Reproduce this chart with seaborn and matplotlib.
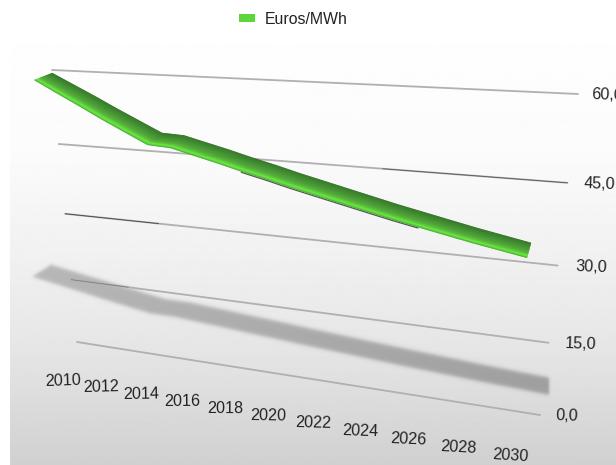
import numpy as np
import pandas as pd
import matplotlib
matplotlib.use("Agg")
import matplotlib.pyplot as plt
from matplotlib.colors import to_rgb
from matplotlib.patches import Patch
import seaborn as sns

# ---- data ----
years = [2010, 2011, 2012, 2013, 2014, 2015, 2016, 2017, 2018, 2019, 2020,
         2021, 2022, 2023, 2024, 2025, 2026, 2027, 2028, 2029, 2030]
prices = [59.4, 57.3, 55.2, 53.0, 50.9, 48.8, 48.6, 47.5, 46.4, 45.2, 44.1,
          42.9, 41.8, 40.7, 39.6, 38.5, 37.5, 36.5, 35.5, 34.6, 33.7]
year_ticks = [2010, 2012, 2014, 2016, 2018, 2020, 2022, 2024, 2026, 2028, 2030]
value_ticks = [0, 15, 30, 45, 60]
value_labels = ["0,0", "15,0", "30,0", "45,0", "60,0"]
series_name = "Euros/MWh"

# ---- perspective scale (value plane -> canvas) ----
W, H = 616, 465
quad = [(77, 342), (540, 415), (578, 94), (52, 70)]  # (u,w) = 00, 10, 11, 01
(x0, y0), (x1, y1), (x2, y2), (x3, y3) = quad
sx, sy = x0 - x1 + x2 - x3, y0 - y1 + y2 - y3
dx1, dx2, dy1, dy2 = x1 - x2, x3 - x2, y1 - y2, y3 - y2
den = dx1 * dy2 - dx2 * dy1
g = (sx * dy2 - dx2 * sy) / den
h = (dx1 * sy - sx * dy1) / den
a, b, c = x1 - x0 + g * x1, x3 - x0 + h * x3, x0
d, e, f = y1 - y0 + g * y1, y3 - y0 + h * y3, y0
U_SPAN = 0.951


def plane(u, v):
    u, w = np.asarray(u, float), np.asarray(v, float) / 60.0
    D = g * u + h * w + 1
    return (a * u + b * w + c) / D, (d * u + e * w + f) / D


def year_u(y):
    return (np.asarray(y, float) - years[0]) / (years[-1] - years[0]) * U_SPAN


def depth(u):
    return -18 + 14.7 * u, 7 + 8.2 * (1 - np.exp(-u / 0.25))


def shadow_map(px, py, lift=0.0):
    return 33 + (px - 35) * 1.045, 241.6 + 0.0918 * px + 0.403 * py + lift


def soft(z, s):
    return 0.5 * (1 + np.tanh(z / s))


sns.set_theme(style="white")
plt.rcParams["font.family"] = ["Liberation Sans", "DejaVu Sans"]
fig = plt.figure(figsize=(W / 100, H / 100), dpi=100, facecolor="white")
ax = fig.add_axes([0, 0, 1, 1])

# ---- background ----
stops_y = [0, 150, 250, 350, 465]
stops_c = [255, 251, 241, 229, 208]
grad = np.interp(np.arange(H), stops_y, stops_c)[:, None] / 255.0
ax.imshow(grad, extent=(10, W, H, 8), cmap="gray", vmin=0, vmax=1,
          aspect="auto", zorder=0)

# ---- grid lines ----
rows = []
for v in value_ticks:
    gx, gy = plane(np.array([0.0, 0.25, 0.5, 0.75, 1.0]), np.full(5, v))
    rows += [{"x": p, "y": q, "level": v} for p, q in zip(gx, gy)]
sns.lineplot(data=pd.DataFrame(rows), x="x", y="y", units="level", estimator=None,
             sort=False, color="#b0b0b0", lw=1.3, ax=ax, legend=False, zorder=1)

dark_runs = [(45, 0.68, 1.0, 0.7), (30, 0.0, 0.22, 0.85), (15, 0.0, 0.14, 0.4)]
for v, ua, ub, al in dark_runs:
    gx, gy = plane(np.array([ua, ub]), np.array([v, v]))
    ax.plot(gx, gy, color="#333333", lw=0.6, alpha=al, zorder=1.1)

# ---- ribbon geometry ----
u = year_u(years)
bx, by = plane(u, prices)
ox, oy = depth(u)
fx, fy = bx + ox, by + oy

# ---- floor shadow (soft) ----
sfx, sfy = shadow_map(fx, fy, lift=0.5)
sbx, sby = shadow_map(bx, by, lift=-10)
cols = np.arange(20, 565)
rws = np.arange(250, 410)
XX, YY = np.meshgrid(cols + 0.5, rws + 0.5)
top = np.interp(XX, np.r_[sfx[0], sbx], np.r_[sfy[0], sby])
bot = np.interp(XX, sfx, sfy)
xmax = min(sbx[-1], sfx[-1]) + 2
strength = 0.44 + 0.14 * (XX - sfx[0]) / (xmax - sfx[0])
alpha = soft(YY - top, 2.2) * soft(bot - YY, 2.2) * soft(XX - sfx[0], 2.0) * soft(xmax - XX, 1.5) * strength
shade = np.dstack([np.full(XX.shape, 0.44)] * 3 + [alpha])
ax.imshow(shade, extent=(cols[0], cols[-1] + 1, rws[-1] + 1, rws[0]), aspect="auto", zorder=0.9)

# ---- ribbon ----
stops_t = [0.0, 0.30, 0.60, 0.75, 0.87, 0.95, 1.0]
stops_col = ["#2e7222", "#3b8a2a", "#4ba531", "#55c035", "#66e83b", "#55d034", "#3f9c2a"]
rgb = np.array([to_rgb(s) for s in stops_col])
N = 28
ts = np.linspace(0, 1, N + 1)
for t0, t1 in zip(ts[:-1], ts[1:]):
    tm = 0.5 * (t0 + t1)
    col = [np.interp(tm, stops_t, rgb[:, k]) for k in range(3)]
    xa, ya = bx + (fx - bx) * t0, by + (fy - by) * t0
    xb, yb = bx + (fx - bx) * t1, by + (fy - by) * t1
    ax.fill(np.r_[xa, xb[::-1]], np.r_[ya, yb[::-1]], color=col, lw=0.25, zorder=3)

# dark seam below the ribbon in its middle part
seam = [i for i, y in enumerate(years) if 2019 <= y <= 2026]
ax.plot(fx[seam], fy[seam] + 0.8, color="#111111", lw=0.9, alpha=0.7, zorder=2.8)

# ---- tick labels ----
for y in year_ticks:
    uu = year_u(y)
    px, py = plane(uu, 0.0)
    ax.text(px - 14 + 11.6 * uu, py + 39 + 6.3 * uu, str(y), fontsize=11.6, color="#222222",
            ha="center", va="center", rotation=2 - 6 * uu, rotation_mode="anchor", zorder=4)

label_gap = [16, 16, 18, 16, 13]
for v, lab, gap in zip(value_ticks, value_labels, label_gap):
    px, py = plane(1.0, v)
    ax.text(px + gap, py + 0.8, lab, fontsize=11.6, color="#222222", ha="left", va="center",
            rotation=-2, rotation_mode="anchor", zorder=4)

# ---- legend ----
ax.legend(handles=[Patch(color="#5cd63c", label=series_name, lw=0)],
          loc="center left", bbox_to_anchor=(239, 19), bbox_transform=ax.transData,
          frameon=False, borderpad=0, borderaxespad=0, fontsize=11.4,
          handlelength=1.0, handleheight=0.4, handletextpad=0.63,
          labelcolor="#222222")

ax.set_xlim(0, W)
ax.set_ylim(H, 0)
ax.axis("off")
fig.savefig("out.png", dpi=100, facecolor="white")
